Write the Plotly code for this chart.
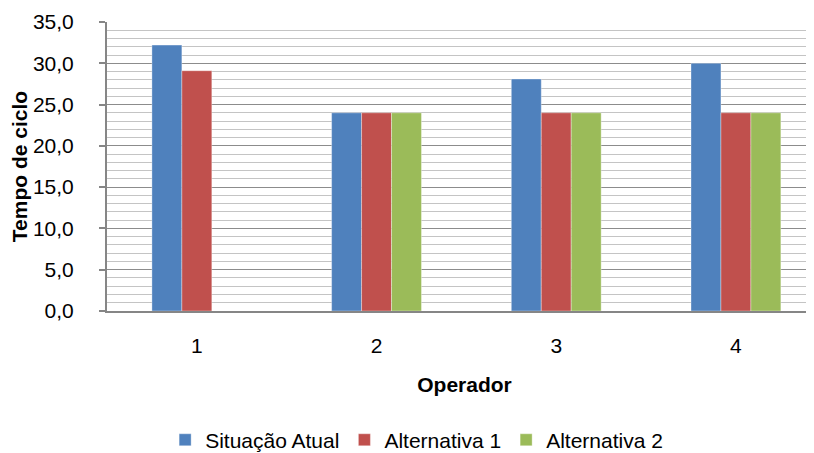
import plotly.graph_objects as go

operadores = ["1", "2", "3", "4"]
situacao_atual = [32.2, 24.0, 28.1, 30.0]
alternativa_1 = [29.1, 24.0, 24.0, 24.0]
alternativa_2 = [None, 24.0, 24.0, 24.0]

series = [
    ("Situação Atual", situacao_atual, "#4F81BD"),
    ("Alternativa 1", alternativa_1, "#C0504D"),
    ("Alternativa 2", alternativa_2, "#9BBB59"),
]

fnt = "Liberation Sans, Arial, sans-serif"

fig = go.Figure()
for name, vals, col in series:
    fig.add_trace(go.Bar(x=operadores, y=vals, name=name,
                         marker=dict(color=col, line=dict(color="rgba(255,255,255,0.35)", width=1))))

# page body has an 8px margin, so the figure is shifted by 8px
fig.update_layout(
    width=814, height=453,
    margin=dict(l=99, r=0, t=14, b=150, autoexpand=False),
    paper_bgcolor="white", plot_bgcolor="white",
    separators=",.",
    barmode="group", bargap=0.5, bargroupgap=0,
    font=dict(family=fnt, size=21, color="black"),
    showlegend=True,
    legend=dict(orientation="h", xref="container", yref="container",
                x=0.502, y=0.046, xanchor="center", yanchor="middle",
                font=dict(size=21), itemwidth=30),
)

fig.update_xaxes(
    type="category", range=[-0.5, 3.479], automargin=False,
    showline=True, linecolor="#868686", linewidth=2,
    ticks="", showgrid=False,
    title=dict(text="<b>Operador</b>", font=dict(size=21), standoff=21),
    ticklabelstandoff=15,
)

fig.update_yaxes(
    range=[0, 35], dtick=5, tickformat=".1f", automargin=False,
    showline=True, linecolor="#868686", linewidth=2,
    ticks="outside", ticklen=6, tickcolor="#868686", tickwidth=1.5,
    showgrid=True, gridcolor="#8C8C8C", gridwidth=1.2,
    minor=dict(dtick=1, showgrid=True, gridcolor="#C4C4C4", gridwidth=1),
    zeroline=False,
    ticklabelstandoff=21,
    title=dict(text="<b>Tempo de ciclo</b>", font=dict(size=21), standoff=13),
)

fig.write_html("out.html")
